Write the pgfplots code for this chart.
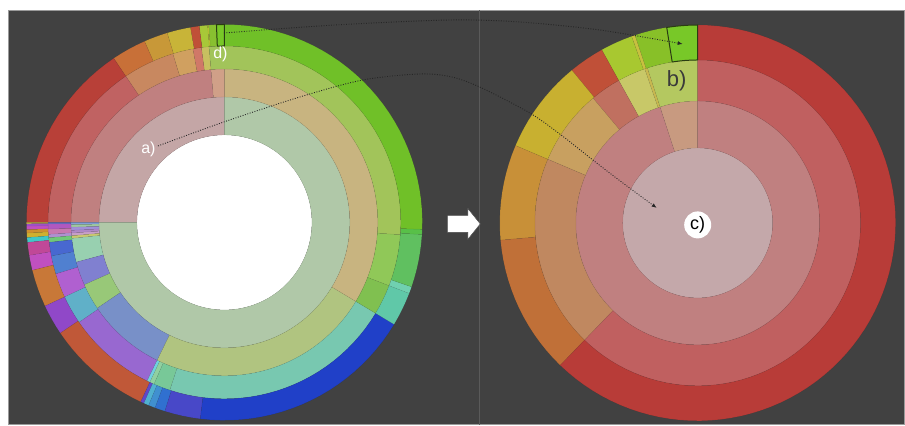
\documentclass[border=0pt]{standalone}
\usepackage{pgfplots}
\pgfplotsset{compat=1.18}
\usepackage{pgfplotstable}
\usepackage{fontspec}
\setmainfont{Liberation Sans}
\usetikzlibrary{arrows.meta}

\definecolor{bg}{HTML}{414141}
\definecolor{divider}{HTML}{5A5A5A}
\definecolor{frame}{HTML}{9A9A9A}
\definecolor{hlline}{HTML}{2A3C12}
\definecolor{labeldark}{HTML}{3A3A3A}

\tikzset{
  sec/.style={draw=black, draw opacity=0.07, line width=0.5pt},
  plain/.style={draw=none},
  hl/.style={draw=hlline, line width=1pt},
  leader/.style={black!85, line width=0.9pt, dash pattern=on 0.9pt off 1.6pt,
    -{Latex[length=5pt,width=4pt]}, smooth, mark=none},
}

% Sunburst sectors: start/end angle (deg, counter-clockwise from east),
% inner/outer radius, fill colour, outline style.
% Full hierarchy, centred at (224.5, 222.5).
\pgfplotstableread{
a1 a2 r1 r2 hex st
0 360 0 87.5 FFFFFF plain
90 180 87.5 125.5 C4A6A6 sec
180 450 87.5 125.5 B0C8A8 sec
95 180 125.5 153.5 C08080 sec
180 180.8 125.5 153.5 80A0D8 sec
180.8 181.8 125.5 153.5 A0C8A0 sec
181.8 183 125.5 153.5 A090D8 sec
183 184 125.5 153.5 B088C8 sec
184 185 125.5 153.5 C8A0C8 sec
185 186 125.5 153.5 C8C870 sec
186 195 125.5 153.5 98D0B0 sec
195 204 125.5 153.5 8080D0 sec
204 214 125.5 153.5 98C878 sec
214 244 125.5 153.5 7890C8 sec
244 329 125.5 153.5 B0C480 sec
329 450 125.5 153.5 C8B480 sec
450 455 125.5 153.5 D0A088 sec
95 97.5 153.5 176.5 C8C060 sec
97.5 100.3 153.5 176.5 D07868 sec
100.3 107 153.5 176.5 D0A060 sec
107 124 153.5 176.5 C88860 sec
124 180 153.5 176.5 C06262 sec
180 180.5 153.5 176.5 6070C8 sec
180.5 182.2 153.5 176.5 B058C0 sec
182.2 183.9 153.5 176.5 C878B0 sec
183.9 185 153.5 176.5 B090D0 sec
185 186.5 153.5 176.5 70C878 sec
186.5 191 153.5 176.5 4868D0 sec
191 197 153.5 176.5 5080D0 sec
197 205 153.5 176.5 B060D0 sec
205 214.5 153.5 176.5 60B0C8 sec
214.5 244 153.5 176.5 9868D0 sec
244 245 153.5 176.5 70D0E0 sec
245 246.5 153.5 176.5 90D0A0 sec
246.5 252 153.5 176.5 78C898 sec
252 329 153.5 176.5 78C8B0 sec
329 339 153.5 176.5 80C050 sec
339 356 153.5 176.5 90C858 sec
356 455 153.5 176.5 A2C45A sec
92.3 94.6 176.5 198 88C030 sec
94.6 94.9 176.5 198 C8C838 sec
94.9 97.3 176.5 198 A8C838 sec
97.3 99.9 176.5 198 C05038 sec
99.9 106.8 176.5 198 C8B438 sec
106.8 113.8 176.5 198 C89838 sec
113.8 124 176.5 198 C87038 sec
124 180 176.5 198 B84038 sec
180 180.4 176.5 198 C8C040 sec
180.4 181.1 176.5 198 A050C8 sec
181.1 182.1 176.5 198 C050C0 sec
182.1 183.1 176.5 198 D09030 sec
183.1 184.4 176.5 198 D0B030 sec
184.4 185.8 176.5 198 40C8C8 sec
185.8 189.6 176.5 198 C04898 sec
189.6 194 176.5 198 C050C0 sec
194 205 176.5 198 C87838 sec
205 214 176.5 198 9048C8 sec
214 245 176.5 198 C05838 sec
245 246 176.5 198 6048C8 sec
246 247.5 176.5 198 50B0D0 sec
247.5 249.5 176.5 198 4090D0 sec
249.5 252.5 176.5 198 3070D0 sec
252.5 263 176.5 198 4848C8 sec
263 329 176.5 198 2040C8 sec
329 339 176.5 198 60C8A8 sec
339 341 176.5 198 70D0B0 sec
341 356.5 176.5 198 60C060 sec
356.5 358 176.5 198 58C048 sec
358 450 176.5 198 70C028 sec
90 92.3 176.5 198 78C828 hl
}\fullview

% Zoomed branch, centred at (698, 223).
\pgfplotstableread{
a1 a2 r1 r2 hex st
0 360 0 75 C4A8AA plain
90 108 75 122 C89A80 sec
108 450 75 122 C08080 sec
90 108 122 163 B4C860 sec
108 109 122 163 C8B850 sec
109 119 122 163 C8C868 sec
119 130 122 163 C07060 sec
130 157 122 163 C8A060 sec
157 226 122 163 C08860 sec
226 450 122 163 C06060 sec
99 108.5 163 198 88C028 sec
108.5 109.5 163 198 C8C040 sec
109.5 119 163 198 A8C830 sec
119 129.5 163 198 C05038 sec
129.5 157 163 198 C8B030 sec
157 185 163 198 C89038 sec
185 226 163 198 C07038 sec
226 450 163 198 B83C38 sec
90 99 163 198 78C828 hl
}\zoomview

% #1 table, #2 centre x, #3 centre y, #4 colour prefix
\newcommand\drawsectors[4]{%
  \pgfplotstablegetrowsof{#1}%
  \pgfmathtruncatemacro\nlast{\pgfplotsretval-1}%
  \pgfplotsforeachungrouped \i in {0,...,\nlast}{%
    \pgfplotstablegetelem{\i}{a1}\of#1\let\Aa\pgfplotsretval
    \pgfplotstablegetelem{\i}{a2}\of#1\let\Ab\pgfplotsretval
    \pgfplotstablegetelem{\i}{r1}\of#1\let\Ra\pgfplotsretval
    \pgfplotstablegetelem{\i}{r2}\of#1\let\Rb\pgfplotsretval
    \pgfplotstablegetelem{\i}{hex}\of#1\let\Hx\pgfplotsretval
    \pgfplotstablegetelem{\i}{st}\of#1\let\St\pgfplotsretval
    \edef\defc{\noexpand\definecolor{#4\i}{HTML}{\Hx}}\defc
    \pgfmathtruncatemacro\ns{3*max(4,ceil(abs(\Ab-\Aa)/3))+1}%
    \edef\doplot{\noexpand\addplot[\St, fill=#4\i, mark=none, domain=0:3,
      samples=\ns, variable=\noexpand\t]
      ({#2+(\Rb-(\Rb-\Ra)*min(max(\noexpand\t-1,0),1))*cos(\Aa+(\Ab-\Aa)*(min(\noexpand\t,1)-max(\noexpand\t-2,0)))},
       {#3-(\Rb-(\Rb-\Ra)*min(max(\noexpand\t-1,0),1))*sin(\Aa+(\Ab-\Aa)*(min(\noexpand\t,1)-max(\noexpand\t-2,0)))})
      -- cycle;}%
    \doplot
  }%
}

\begin{document}
\begin{tikzpicture}
\begin{axis}[
  x=1pt, y=1pt, y dir=reverse,
  xmin=0, xmax=905, ymin=0, ymax=425,
  hide axis, scale only axis, clip=false,
]
% page and dark panel
\addplot[fill=white, draw=none, mark=none] coordinates {(0,0) (905,0) (905,425) (0,425)} -- cycle;
\addplot[fill=bg, draw=frame, line width=0.8pt, mark=none] coordinates {(8,10.5) (905,10.5) (905,425) (8,425)} -- cycle;
\addplot[divider, line width=1pt, mark=none] coordinates {(479.5,10.5) (479.5,425)};

\drawsectors{\fullview}{224.5}{222.5}{L}
\drawsectors{\zoomview}{698}{223}{R}

% transition arrow
\addplot[fill=white, draw=black!70, line width=0.5pt, mark=none] coordinates {
  (447.5,215.5) (468,215.5) (468,208.5) (480.5,224) (468,239.5) (468,232.5) (447.5,232.5)} -- cycle;

% leader lines
\addplot[leader] coordinates {(158,146) (224,122) (300,97) (363,80) (420,74) (452,77)
  (482,88) (530,113) (560,134) (593,160) (623,183) (657,208)};
\addplot[leader] coordinates {(224,33) (335,25) (450,20) (520,22) (600,30) (683,44)};

% labels
\node[white, font=\fontsize{16}{16}\selectfont] at (axis cs:148.5,149.5) {a)};
\node[white, font=\fontsize{16}{16}\selectfont] at (axis cs:220.5,54) {d)};
\node[labeldark, font=\fontsize{22}{22}\selectfont] at (axis cs:677,81) {b)};
\node[circle, fill=white, inner sep=0pt, minimum size=27pt] at (axis cs:698,225) {};
\node[black, font=\fontsize{18}{18}\selectfont] at (axis cs:698,225) {c)};
\end{axis}
\end{tikzpicture}
\end{document}
